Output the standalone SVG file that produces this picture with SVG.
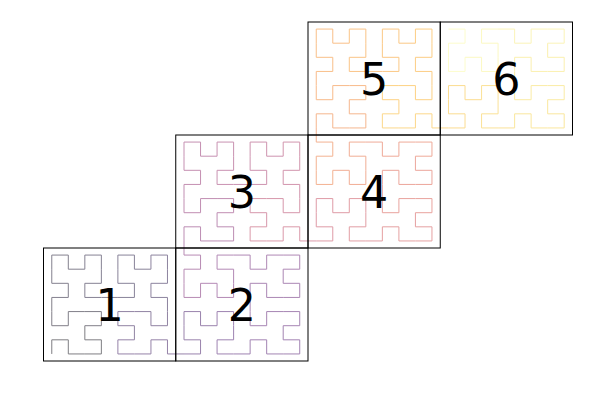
<svg xmlns="http://www.w3.org/2000/svg" width="600" height="400" viewBox="0 0 600 400">
<style>
.sq{fill:none;stroke:#000;stroke-width:1}
.lbl{font-family:"DejaVu Sans",sans-serif;font-size:44.4px;fill:#000;text-anchor:middle}
#curve polyline{fill:none;stroke-width:1;vector-effect:non-scaling-stroke;stroke-linejoin:miter}
</style>
<rect width="600" height="400" fill="#fff"/>
<g id="curve" opacity="0.5" transform="translate(51.77,353.94) scale(16.53,-14.125)">
<polyline stroke="#02010a" points="0,0 0,1 1,1 1,0 2,0 3,0 3,1 2,1 2,2"/>
<polyline stroke="#070315" points="2,2 3,2 3,3 2,3 1,3 1,2 0,2 0,3 0,4"/>
<polyline stroke="#0c0620" points="0,4 1,4 1,5 0,5 0,6 0,7 1,7 1,6 2,6"/>
<polyline stroke="#10082b" points="2,6 2,7 3,7 3,6 3,5 2,5 2,4 3,4 4,4"/>
<polyline stroke="#150a36" points="4,4 5,4 5,5 4,5 4,6 4,7 5,7 5,6 6,6"/>
<polyline stroke="#1d0b40" points="6,6 6,7 7,7 7,6 7,5 6,5 6,4 7,4 7,3"/>
<polyline stroke="#260b4a" points="7,3 7,2 6,2 6,3 5,3 4,3 4,2 5,2 5,1"/>
<polyline stroke="#2f0a54" points="5,1 4,1 4,0 5,0 6,0 6,1 7,1 7,0 8,0"/>
<polyline stroke="#380a5d" points="8,0 9,0 9,1 8,1 8,2 8,3 9,3 9,2 10,2"/>
<polyline stroke="#410a67" points="10,2 10,3 11,3 11,2 11,1 10,1 10,0 11,0 12,0"/>
<polyline stroke="#4a0d69" points="12,0 12,1 13,1 13,0 14,0 15,0 15,1 14,1 14,2"/>
<polyline stroke="#520f6a" points="14,2 15,2 15,3 14,3 13,3 13,2 12,2 12,3 12,4"/>
<polyline stroke="#5a126c" points="12,4 12,5 13,5 13,4 14,4 15,4 15,5 14,5 14,6"/>
<polyline stroke="#63156d" points="14,6 15,6 15,7 14,7 13,7 13,6 12,6 12,7 11,7"/>
<polyline stroke="#6b176e" points="11,7 10,7 10,6 11,6 11,5 11,4 10,4 10,5 9,5"/>
<polyline stroke="#741b6c" points="9,5 9,4 8,4 8,5 8,6 9,6 9,7 8,7 8,8"/>
<polyline stroke="#7c1e6b" points="8,8 8,9 9,9 9,8 10,8 11,8 11,9 10,9 10,10"/>
<polyline stroke="#852169" points="10,10 11,10 11,11 10,11 9,11 9,10 8,10 8,11 8,12"/>
<polyline stroke="#8d2468" points="8,12 9,12 9,13 8,13 8,14 8,15 9,15 9,14 10,14"/>
<polyline stroke="#962766" points="10,14 10,15 11,15 11,14 11,13 10,13 10,12 11,12 12,12"/>
<polyline stroke="#9f2b62" points="12,12 13,12 13,13 12,13 12,14 12,15 13,15 13,14 14,14"/>
<polyline stroke="#a72e5e" points="14,14 14,15 15,15 15,14 15,13 14,13 14,12 15,12 15,11"/>
<polyline stroke="#b0325a" points="15,11 15,10 14,10 14,11 13,11 12,11 12,10 13,10 13,9"/>
<polyline stroke="#b83656" points="13,9 12,9 12,8 13,8 14,8 14,9 15,9 15,8 16,8"/>
<polyline stroke="#c03a51" points="16,8 17,8 17,9 16,9 16,10 16,11 17,11 17,10 18,10"/>
<polyline stroke="#c7404c" points="18,10 18,11 19,11 19,10 19,9 18,9 18,8 19,8 20,8"/>
<polyline stroke="#ce4546" points="20,8 20,9 21,9 21,8 22,8 23,8 23,9 22,9 22,10"/>
<polyline stroke="#d54a41" points="22,10 23,10 23,11 22,11 21,11 21,10 20,10 20,11 20,12"/>
<polyline stroke="#db503b" points="20,12 20,13 21,13 21,12 22,12 23,12 23,13 22,13 22,14"/>
<polyline stroke="#e15735" points="22,14 23,14 23,15 22,15 21,15 21,14 20,14 20,15 19,15"/>
<polyline stroke="#e55f2e" points="19,15 18,15 18,14 19,14 19,13 19,12 18,12 18,13 17,13"/>
<polyline stroke="#ea6827" points="17,13 17,12 16,12 16,13 16,14 17,14 17,15 16,15 16,16"/>
<polyline stroke="#ee7020" points="16,16 16,17 17,17 17,16 18,16 19,16 19,17 18,17 18,18"/>
<polyline stroke="#f37819" points="18,18 19,18 19,19 18,19 17,19 17,18 16,18 16,19 16,20"/>
<polyline stroke="#f58116" points="16,20 17,20 17,21 16,21 16,22 16,23 17,23 17,22 18,22"/>
<polyline stroke="#f78b13" points="18,22 18,23 19,23 19,22 19,21 18,21 18,20 19,20 20,20"/>
<polyline stroke="#f99410" points="20,20 21,20 21,21 20,21 20,22 20,23 21,23 21,22 22,22"/>
<polyline stroke="#fb9e0d" points="22,22 22,23 23,23 23,22 23,21 22,21 22,20 23,20 23,19"/>
<polyline stroke="#fca70d" points="23,19 23,18 22,18 22,19 21,19 20,19 20,18 21,18 21,17"/>
<polyline stroke="#fbb219" points="21,17 20,17 20,16 21,16 22,16 22,17 23,17 23,16 24,16"/>
<polyline stroke="#f9bc26" points="24,16 25,16 25,17 24,17 24,18 24,19 25,19 25,18 26,18"/>
<polyline stroke="#f8c632" points="26,18 26,19 27,19 27,18 27,17 26,17 26,16 27,16 28,16"/>
<polyline stroke="#f7d13f" points="28,16 28,17 29,17 29,16 30,16 31,16 31,17 30,17 30,18"/>
<polyline stroke="#f7da4e" points="30,18 31,18 31,19 30,19 29,19 29,18 28,18 28,19 28,20"/>
<polyline stroke="#f8e362" points="28,20 28,21 29,21 29,20 30,20 31,20 31,21 30,21 30,22"/>
<polyline stroke="#f9eb75" points="30,22 31,22 31,23 30,23 29,23 29,22 28,22 28,23 27,23"/>
<polyline stroke="#faf489" points="27,23 26,23 26,22 27,22 27,21 27,20 26,20 26,21 25,21"/>
<polyline stroke="#fcfc9d" points="25,21 25,20 24,20 24,21 24,22 25,22 25,23 24,23"/>
</g>
<g id="node1"><rect class="sq" x="43.5" y="248" width="132.25" height="113"/><text class="lbl" x="109.6" y="320.7">1</text></g>
<g id="node2"><rect class="sq" x="175.75" y="248" width="132.25" height="113"/><text class="lbl" x="241.9" y="320.7">2</text></g>
<g id="node3"><rect class="sq" x="175.75" y="135" width="132.25" height="113"/><text class="lbl" x="241.9" y="207.7">3</text></g>
<g id="node4"><rect class="sq" x="308" y="135" width="132.25" height="113"/><text class="lbl" x="374.1" y="207.7">4</text></g>
<g id="node5"><rect class="sq" x="308" y="22" width="132.25" height="113"/><text class="lbl" x="374.1" y="94.7">5</text></g>
<g id="node6"><rect class="sq" x="440.25" y="22" width="132.25" height="113"/><text class="lbl" x="506.4" y="94.7">6</text></g>
</svg>
